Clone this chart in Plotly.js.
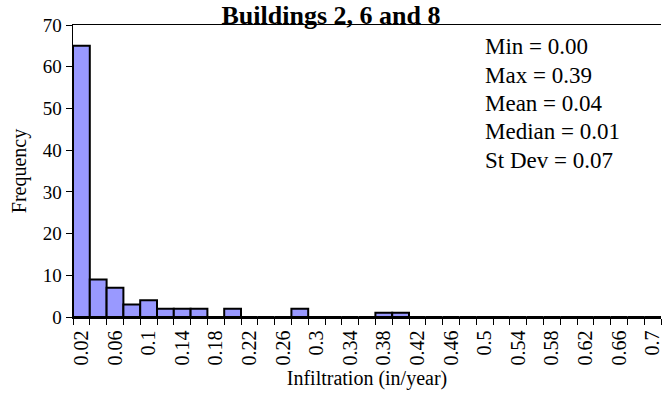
<!DOCTYPE html>
<html>
<head>
<meta charset="utf-8">
<script src="https://cdn.plot.ly/plotly-3.0.1.min.js"></script>
<style>
  html, body { margin: 0; padding: 0; background: #fff; }
  #chart { width: 662px; height: 402px; }
</style>
</head>
<body>
<div id="chart"></div>
<script>
// bin upper edges (in/year) and counts per bin
var binLabels = ['0.02', '0.04', '0.06', '0.08', '0.1', '0.12', '0.14', '0.16', '0.18', '0.2',
                 '0.22', '0.24', '0.26', '0.28', '0.3', '0.32', '0.34', '0.36', '0.38', '0.4',
                 '0.42', '0.44', '0.46', '0.48', '0.5', '0.52', '0.54', '0.56', '0.58', '0.6',
                 '0.62', '0.64', '0.66', '0.68', '0.7'];
var counts = [65, 9, 7, 3, 4, 2, 2, 2, 0, 2,
              0, 0, 0, 2, 0, 0, 0, 0, 1, 1,
              0, 0, 0, 0, 0, 0, 0, 0, 0, 0,
              0, 0, 0, 0, 0];
var statNames = ['Min', 'Max', 'Mean', 'Median', 'St Dev'];
var statValues = ['0.00', '0.39', '0.04', '0.01', '0.07'];

// only every other bin gets a label, like the original
var tickText = binLabels.map((t, i) => i % 2 == 0 ? t : '');

var font = 'Liberation Serif, Times New Roman, serif';

var trace = {
    x: binLabels,
    y: counts,
    type: 'bar',
    marker: { color: '#9999FF', line: { color: '#000000', width: 2 } },
    hoverinfo: 'x+y'
};

// one annotation per stats line so the spacing can be set
var statAnnotations = statNames.map(function (n, i) {
    return {
        xref: 'paper', yref: 'paper',
        x: 0.697, y: (402 - 85 - (47 + i * 28.3)) / 292,
        xanchor: 'left', yanchor: 'middle',
        showarrow: false,
        text: n + ' = ' + statValues[i],
        font: { family: font, size: 23, color: '#000000' }
    };
});

var layout = {
    width: 662,
    height: 402,
    margin: { l: 73, r: 1, t: 25, b: 85 },
    paper_bgcolor: '#ffffff',
    plot_bgcolor: '#ffffff',
    bargap: 0,
    showlegend: false,
    font: { family: font, color: '#000000' },
    title: {
        text: '<b>Buildings 2, 6 and 8</b>',
        font: { family: font, size: 26, color: '#000000' },
        x: 0.5, xanchor: 'center',
        y: 1 - 15 / 402, yanchor: 'middle'
    },
    xaxis: {
        type: 'category',
        tickmode: 'array',
        tickvals: binLabels,
        ticktext: tickText,
        tickson: 'boundaries',
        ticks: 'outside',
        ticklen: 6,
        tickcolor: '#000000',
        tickangle: -90,
        ticklabelstandoff: 4,
        tickfont: { family: font, size: 20 },
        showline: true,
        linecolor: '#000000',
        linewidth: 1.5,
        mirror: true,
        showgrid: false,
        zeroline: false,
        title: { text: 'Infiltration (in/year)', font: { family: font, size: 20 }, standoff: 6 }
    },
    yaxis: {
        range: [0, 70],
        dtick: 10,
        ticks: 'outside',
        ticklen: 6,
        tickcolor: '#000000',
        tickfont: { family: font, size: 19 },
        showline: true,
        linecolor: '#000000',
        linewidth: 1.5,
        showgrid: false,
        zeroline: false,
        title: { text: 'Frequency', font: { family: font, size: 20 }, standoff: 10 }
    },
    annotations: statAnnotations
};

Plotly.newPlot('chart', [trace], layout, { displayModeBar: false, staticPlot: true });
</script>
</body>
</html>
